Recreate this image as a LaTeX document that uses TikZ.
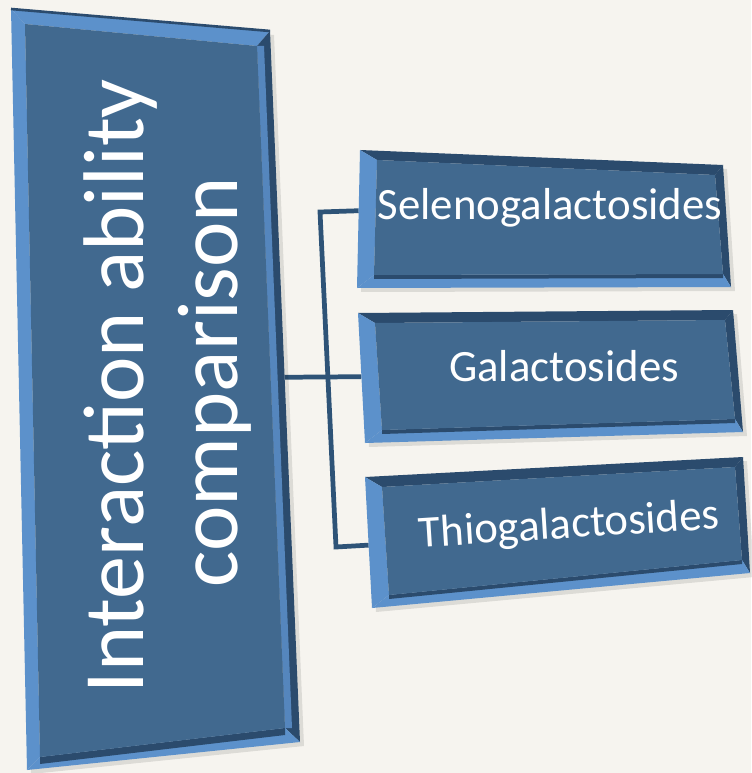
\documentclass[tikz,border=0pt]{standalone}
\usepackage{fontspec}
\setmainfont{Carlito}
\usetikzlibrary{calc,positioning}
\pgfdeclarelayer{back}
\pgfsetlayers{back,main}

\definecolor{paper}{HTML}{F6F4EF}
\definecolor{facecol}{HTML}{41698F}
\definecolor{lightcol}{HTML}{5C91CB}
\definecolor{midcol}{HTML}{5586BD}
\definecolor{darkcol}{HTML}{2B4B6D}
\definecolor{wirecol}{HTML}{2E5377}

\tikzset{
  wire/.style={line width=2.7pt,color=wirecol},
  boxshadow/.style={fill=black,opacity=0.10},
  titletext/.style={text=white,inner sep=0pt,anchor=base,rotate=90,font=\fontsize{49}{58}\selectfont},
  itemtext/.style={text=white,inner sep=0pt,anchor=base,font=\fontsize{25.5}{30}\selectfont}
}

\begin{document}
\begin{tikzpicture}[x=0.02cm,y=-0.02cm]

  \useasboundingbox (0,0) rectangle (751,773);
  \begin{pgfonlayer}{back}
    \fill [paper] (0,0) rectangle (751,773);
  \end{pgfonlayer}

  % big box
  \coordinate (main_A) at (11,9);
  \coordinate (main_B) at (270,31);
  \coordinate (main_C) at (300,742);
  \coordinate (main_D) at (27,770);
  \coordinate (main_a) at (25,24);
  \coordinate (main_b) at (257,46);
  \coordinate (main_c) at (285,728);
  \coordinate (main_d) at (40,757);

  \fill [boxshadow] ($(main_A)+(4,4)$) -- ($(main_B)+(4,4)$) -- ($(main_C)+(4,4)$) -- ($(main_D)+(4,4)$) -- cycle;
  \fill [lightcol] (main_A) -- (main_B) -- (main_b) -- (main_a) -- cycle;
  \fill [lightcol] (main_A) -- (main_a) -- (main_d) -- (main_D) -- cycle;
  \fill [darkcol] (main_B) -- (main_C) -- (main_c) -- (main_b) -- cycle;
  \fill [midcol] (main_b) -- (main_c) -- ($(main_c)+(7,0)$) -- ($(main_b)+(7,0)$) -- cycle;
  \fill [lightcol] (main_D) -- (main_d) -- (main_c) -- (main_C) -- cycle;
  \fill [darkcol] (main_d) -- (main_c) -- ($(main_c)+(0,7)$) -- ($(main_d)+(0,7)$) -- cycle;
  \fill [facecol] (main_a) -- (main_b) -- (main_c) -- (main_d) -- cycle;
  \draw [darkcol,line width=1.5pt] (main_A) -- (main_B);

  \node [titletext] at(143,386) (title_0) {Interaction ability};
  \node [titletext] at(237,382) (title_1) {comparison};

  % side boxes
  \foreach \n/\ax/\ay/\bx/\by/\cx/\cy/\dx/\dy in {0/360/150/723/165/731/287/357/288,
      1/358/313/733/310/743/432/365/443, 2/365/477/743/457/750/573/372/608}
  {
    \coordinate (box_\n_A) at (\ax,\ay);
    \coordinate (box_\n_B) at (\bx,\by);
    \coordinate (box_\n_C) at (\cx,\cy);
    \coordinate (box_\n_D) at (\dx,\dy);
    \coordinate (box_\n_a) at ($(box_\n_A)+(17,10)$);
    \coordinate (box_\n_b) at ($(box_\n_B)+(-8,10)$);
    \coordinate (box_\n_c) at ($(box_\n_C)+(-8,-13)$);
    \coordinate (box_\n_d) at ($(box_\n_D)+(17,-13)$);

    \fill [boxshadow] ($(box_\n_A)+(4,4)$) -- ($(box_\n_B)+(4,4)$) -- ($(box_\n_C)+(4,4)$) -- ($(box_\n_D)+(4,4)$) -- cycle;
    \fill [darkcol] (box_\n_A) -- (box_\n_B) -- (box_\n_b) -- (box_\n_a) -- cycle;
    \fill [darkcol] (box_\n_B) -- (box_\n_C) -- (box_\n_c) -- (box_\n_b) -- cycle;
    \fill [lightcol] (box_\n_A) -- (box_\n_a) -- (box_\n_d) -- (box_\n_D) -- cycle;
    \fill [lightcol] (box_\n_D) -- (box_\n_d) -- (box_\n_c) -- (box_\n_C) -- cycle;
    \fill [darkcol] (box_\n_d) -- (box_\n_c) -- ($(box_\n_c)+(0,4)$) -- ($(box_\n_d)+(0,4)$) -- cycle;
    \fill [facecol] (box_\n_a) -- (box_\n_b) -- (box_\n_c) -- (box_\n_d) -- cycle;
  }

  \node [itemtext] at(550,220) (seleno) {Selenogalactosides};
  \node [itemtext] at(564,381) (galacto) {Galactosides};
  \node [itemtext,rotate=3.6] at(570,538) (thio) {Thiogalactosides};

  % connectors
  \coordinate (main_port) at ($(main_B)!0.487!(main_C)$);
  \coordinate (box_0_port) at ($(box_0_A)!0.44!(box_0_D)$);
  \coordinate (box_1_port) at ($(box_1_A)!0.49!(box_1_D)$);
  \coordinate (box_2_port) at ($(box_2_A)!0.52!(box_2_D)$);
  \coordinate (bus_top) at (320,212);
  \coordinate (bus_bot) at (336,547);

  \begin{pgfonlayer}{back}
    \draw [wire] (box_0_port) -- (bus_top) -- (bus_bot) -- (box_2_port);
    \path [wire] (main_port) edge (box_1_port);
  \end{pgfonlayer}

\end{tikzpicture}
\end{document}
